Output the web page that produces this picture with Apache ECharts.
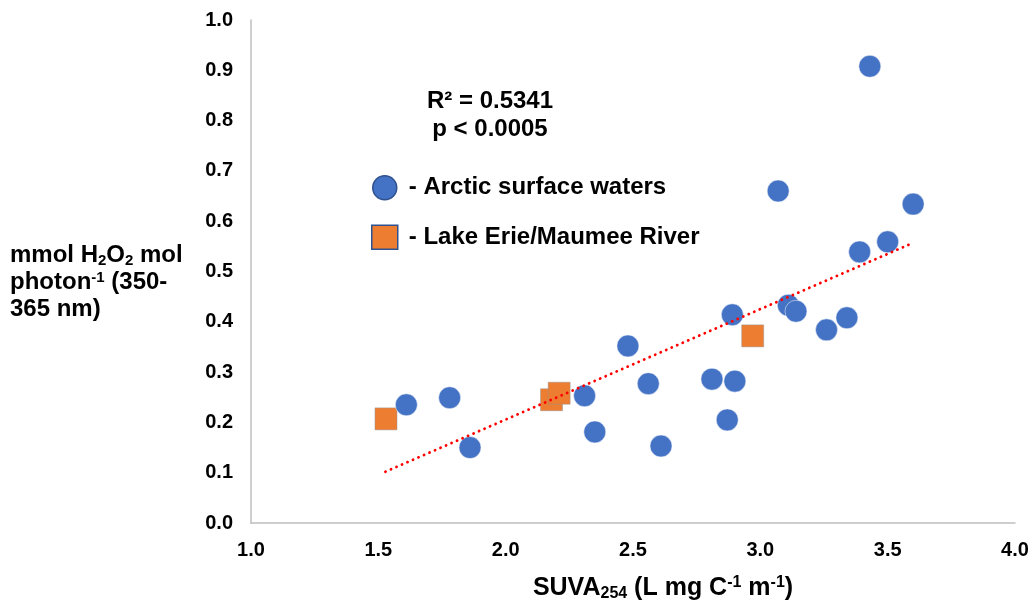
<!DOCTYPE html>
<html>
<head>
<meta charset="utf-8">
<script src="https://cdn.jsdelivr.net/npm/echarts@6/dist/echarts.min.js"></script>
<style>
  html, body { margin: 0; padding: 0; background: #fff; }
  #chart { width: 1034px; height: 603px; }
</style>
</head>
<body>
<div id="chart"></div>
<script>
// SUVA254 (x) vs. H2O2 apparent quantum yield (y)
const arcticSuva = [1.61, 1.78, 1.86, 2.31, 2.35, 2.48, 2.56, 2.61, 2.81, 2.90, 2.87, 2.89, 3.07, 3.11, 3.14, 3.26, 3.34, 3.39, 3.43, 3.50, 3.60];
const arcticYield = [0.235, 0.249, 0.150, 0.253, 0.181, 0.352, 0.277, 0.153, 0.286, 0.282, 0.205, 0.414, 0.660, 0.433, 0.421, 0.384, 0.408, 0.539, 0.908, 0.559, 0.634];

const erieSuva = [1.53, 2.18, 2.21, 2.97];
const erieYield = [0.207, 0.245, 0.258, 0.372];

// linear trend line end points
const trendSuva = [1.528, 3.600];
const trendYield = [0.102, 0.557];

const xTicks = { min: 1.0, max: 4.0, step: 0.5 };
const yTicks = { min: 0.0, max: 1.0, step: 0.1 };

const statsLines = ['R² = 0.5341', 'p < 0.0005'];

const zip = (xs, ys) => xs.map((x, i) => [x, ys[i]]);

const FONT = '"Liberation Sans", Arial, sans-serif';
const TXT = '#000';

const chart = echarts.init(document.getElementById('chart'), null, { renderer: 'canvas' });

chart.setOption({
  backgroundColor: '#fff',
  animation: false,
  textStyle: { fontFamily: FONT },
  grid: { left: 251, right: 19, top: 20, bottom: 80, containLabel: false, outerBoundsMode: 'none' },
  xAxis: {
    type: 'value',
    min: xTicks.min, max: xTicks.max, interval: xTicks.step,
    axisLine: { show: true, lineStyle: { color: '#bfbfbf', width: 1.5 } },
    axisTick: { show: false },
    splitLine: { show: false },
    axisLabel: {
      color: TXT, fontSize: 20, fontWeight: 'bold', fontFamily: FONT, margin: 17,
      formatter: v => v.toFixed(1)
    },
    name: '{b|SUVA}{sub|254}{b| (L mg C}{sup|-1}{b| m}{sup|-1}{b|)}',
    nameLocation: 'middle',
    nameGap: 50,
    nameTextStyle: {
      padding: [0, 0, 0, 60],
      rich: {
        b: { fontSize: 25, fontWeight: 'bold', color: TXT, fontFamily: FONT, lineHeight: 30 },
        sub: { fontSize: 16, fontWeight: 'bold', color: TXT, fontFamily: FONT, lineHeight: 30, padding: [11, 0, 0, 0] },
        sup: { fontSize: 16, fontWeight: 'bold', color: TXT, fontFamily: FONT, lineHeight: 30, padding: [0, 0, 11, 0] }
      }
    }
  },
  yAxis: {
    type: 'value',
    min: yTicks.min, max: yTicks.max, interval: yTicks.step,
    axisLine: { show: true, lineStyle: { color: '#bfbfbf', width: 1.5 } },
    axisTick: { show: false },
    splitLine: { show: false },
    axisLabel: {
      color: TXT, fontSize: 20, fontWeight: 'bold', fontFamily: FONT, margin: 18,
      formatter: v => v.toFixed(1)
    }
  },
  legend: {
    orient: 'vertical',
    left: 366,
    top: 170,
    itemWidth: 26,
    itemHeight: 24,
    itemGap: 24,
    selectedMode: false,
    formatter: name => '- ' + name,
    textStyle: { fontSize: 24, fontWeight: 'bold', color: TXT, fontFamily: FONT, lineHeight: 24, padding: [0, 0, 0, 6] },
    data: [
      { name: 'Arctic surface waters', icon: 'circle', itemStyle: { color: '#4472c4', borderColor: '#2f528f', borderWidth: 1.5 } },
      { name: 'Lake Erie/Maumee River', icon: 'rect', itemStyle: { color: '#ed7d31', borderColor: '#2f528f', borderWidth: 1.5 } }
    ]
  },
  graphic: [
    {
      type: 'text',
      left: 10,
      top: 243,
      style: {
        text: '{b|mmol H}{sub|2}{b|O}{sub|2}{b| mol}\n{b|photon}{sup|-1}{b| (350-}\n{b|365 nm)}',
        rich: {
          b: { fontSize: 24, fontWeight: 'bold', fill: TXT, fontFamily: FONT, lineHeight: 27 },
          sub: { fontSize: 15, fontWeight: 'bold', fill: TXT, fontFamily: FONT, lineHeight: 27, padding: [10, 0, 0, 0] },
          sup: { fontSize: 15, fontWeight: 'bold', fill: TXT, fontFamily: FONT, lineHeight: 27, padding: [0, 0, 10, 0] }
        }
      }
    },
    {
      type: 'text',
      x: 490,
      y: 87,
      style: {
        text: statsLines.join('\n'),
        align: 'center',
        verticalAlign: 'top',
        fontSize: 24, fontWeight: 'bold', fill: TXT, fontFamily: FONT, lineHeight: 28
      }
    }
  ],
  series: [
    {
      name: 'Lake Erie/Maumee River',
      type: 'scatter',
      symbol: 'rect',
      symbolSize: 22,
      data: zip(erieSuva, erieYield),
      itemStyle: { color: '#ed7d31', borderColor: 'rgba(150,150,150,0.6)', borderWidth: 0.8, opacity: 1 },
      z: 2
    },
    {
      name: 'Arctic surface waters',
      type: 'scatter',
      symbol: 'circle',
      symbolSize: 22,
      data: zip(arcticSuva, arcticYield),
      itemStyle: { color: '#4472c4', borderColor: 'rgba(255,255,255,0.5)', borderWidth: 1, opacity: 1 },
      z: 3
    },
    {
      name: 'trend',
      type: 'line',
      data: zip(trendSuva, trendYield),
      symbol: 'none',
      silent: true,
      lineStyle: { color: '#ff0000', width: 2.8, type: [0.1, 5.9], cap: 'round' },
      z: 4
    }
  ]
});
</script>
</body>
</html>
